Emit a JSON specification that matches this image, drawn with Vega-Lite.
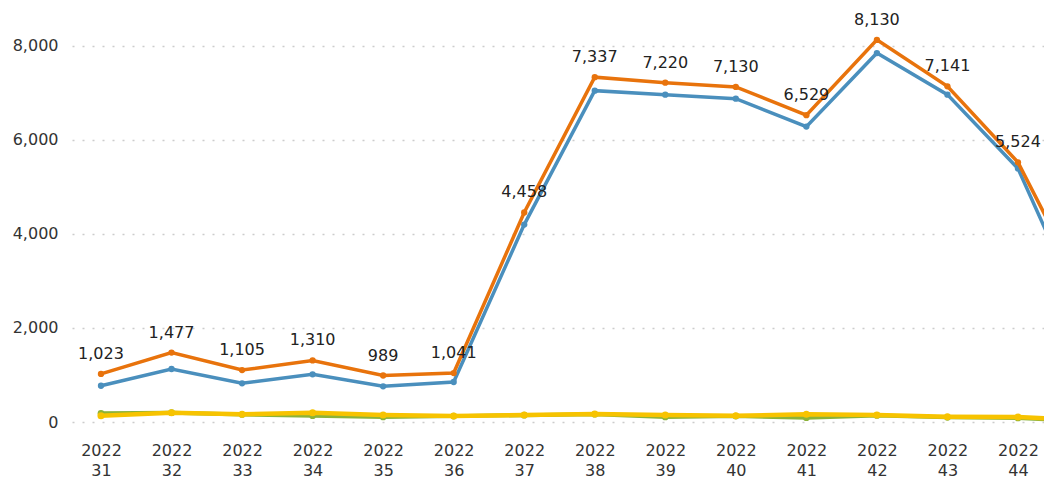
{
  "$schema": "https://vega.github.io/schema/vega-lite/v6.json",
  "autosize": {"type": "none"},
  "padding": {"left": 72, "top": 22, "right": 0, "bottom": 57},
  "width": 972,
  "height": 400,
  "background": "white",
  "config": {
    "view": {"stroke": null},
    "font": "DejaVu Sans",
    "axis": {"labelFont": "DejaVu Sans", "labelFontSize": 16, "labelColor": "#333333"}
  },
  "data": {
    "values": [
      {"week": 31, "series": "orange", "value": 1023},
      {"week": 32, "series": "orange", "value": 1477},
      {"week": 33, "series": "orange", "value": 1105},
      {"week": 34, "series": "orange", "value": 1310},
      {"week": 35, "series": "orange", "value": 989},
      {"week": 36, "series": "orange", "value": 1041},
      {"week": 37, "series": "orange", "value": 4458},
      {"week": 38, "series": "orange", "value": 7337},
      {"week": 39, "series": "orange", "value": 7220},
      {"week": 40, "series": "orange", "value": 7130},
      {"week": 41, "series": "orange", "value": 6529},
      {"week": 42, "series": "orange", "value": 8130},
      {"week": 43, "series": "orange", "value": 7141},
      {"week": 44, "series": "orange", "value": 5524},
      {"week": 45, "series": "orange", "value": 2600},
      {"week": 31, "series": "blue", "value": 772},
      {"week": 32, "series": "blue", "value": 1128},
      {"week": 33, "series": "blue", "value": 823},
      {"week": 34, "series": "blue", "value": 1014},
      {"week": 35, "series": "blue", "value": 759},
      {"week": 36, "series": "blue", "value": 851},
      {"week": 37, "series": "blue", "value": 4200},
      {"week": 38, "series": "blue", "value": 7050},
      {"week": 39, "series": "blue", "value": 6965},
      {"week": 40, "series": "blue", "value": 6880},
      {"week": 41, "series": "blue", "value": 6285},
      {"week": 42, "series": "blue", "value": 7850},
      {"week": 43, "series": "blue", "value": 6965},
      {"week": 44, "series": "blue", "value": 5395},
      {"week": 45, "series": "blue", "value": 2050},
      {"week": 31, "series": "green", "value": 185},
      {"week": 32, "series": "green", "value": 198},
      {"week": 33, "series": "green", "value": 160},
      {"week": 34, "series": "green", "value": 134},
      {"week": 35, "series": "green", "value": 106},
      {"week": 36, "series": "green", "value": 125},
      {"week": 37, "series": "green", "value": 145},
      {"week": 38, "series": "green", "value": 165},
      {"week": 39, "series": "green", "value": 106},
      {"week": 40, "series": "green", "value": 125},
      {"week": 41, "series": "green", "value": 92},
      {"week": 42, "series": "green", "value": 140},
      {"week": 43, "series": "green", "value": 100},
      {"week": 44, "series": "green", "value": 85},
      {"week": 45, "series": "green", "value": 20},
      {"week": 31, "series": "yellow", "value": 134},
      {"week": 32, "series": "yellow", "value": 198},
      {"week": 33, "series": "yellow", "value": 164},
      {"week": 34, "series": "yellow", "value": 198},
      {"week": 35, "series": "yellow", "value": 149},
      {"week": 36, "series": "yellow", "value": 128},
      {"week": 37, "series": "yellow", "value": 149},
      {"week": 38, "series": "yellow", "value": 170},
      {"week": 39, "series": "yellow", "value": 149},
      {"week": 40, "series": "yellow", "value": 134},
      {"week": 41, "series": "yellow", "value": 164},
      {"week": 42, "series": "yellow", "value": 149},
      {"week": 43, "series": "yellow", "value": 113},
      {"week": 44, "series": "yellow", "value": 106},
      {"week": 45, "series": "yellow", "value": 30}
    ]
  },
  "encoding": {
    "x": {
      "field": "week",
      "type": "quantitative",
      "scale": {"domain": [30.589, 44.369], "nice": false, "zero": false},
      "axis": {
        "title": null,
        "values": [31, 32, 33, 34, 35, 36, 37, 38, 39, 40, 41, 42, 43, 44],
        "format": "d",
        "labelExpr": "['2022', datum.label]",
        "labelFlush": false,
        "labelOverlap": false,
        "labelBound": false,
        "grid": false,
        "domain": false,
        "ticks": false,
        "labelPadding": 20,
        "labelLineHeight": 20
      }
    },
    "y": {
      "field": "value",
      "type": "quantitative",
      "scale": {"domain": [0, 8510.6], "nice": false},
      "axis": {
        "title": null,
        "values": [0, 2000, 4000, 6000, 8000],
        "format": ",d",
        "domain": false,
        "ticks": false,
        "labelPadding": 14,
        "grid": true,
        "gridColor": "#cccccc",
        "gridDash": [2, 8],
        "gridWidth": 1.5
      }
    }
  },
  "layer": [
    {
      "transform": [{"filter": "datum.series == 'green'"}],
      "mark": {"type": "line", "color": "#8BB339", "strokeWidth": 4, "clip": true, "point": {"filled": true, "size": 45, "color": "#8BB339", "clip": true}}
    },
    {
      "transform": [{"filter": "datum.series == 'yellow'"}],
      "mark": {"type": "line", "color": "#F7C300", "strokeWidth": 4.5, "clip": true, "point": {"filled": true, "size": 50, "color": "#F7C300", "clip": true}}
    },
    {
      "transform": [{"filter": "datum.series == 'blue'"}],
      "mark": {"type": "line", "color": "#4A8FBD", "strokeWidth": 3.5, "clip": true, "point": {"filled": true, "size": 40, "color": "#4A8FBD", "clip": true}}
    },
    {
      "transform": [{"filter": "datum.series == 'orange'"}],
      "mark": {"type": "line", "color": "#E8730C", "strokeWidth": 3.5, "clip": true, "point": {"filled": true, "size": 40, "color": "#E8730C", "clip": true}}
    },
    {
      "transform": [{"filter": "datum.series == 'orange' && datum.week <= 44"}],
      "mark": {"type": "text", "dy": -15, "baseline": "alphabetic", "align": "center", "fontSize": 16, "font": "DejaVu Sans", "color": "#222222"},
      "encoding": {"text": {"field": "value", "type": "quantitative", "format": ",d"}}
    }
  ]
}
